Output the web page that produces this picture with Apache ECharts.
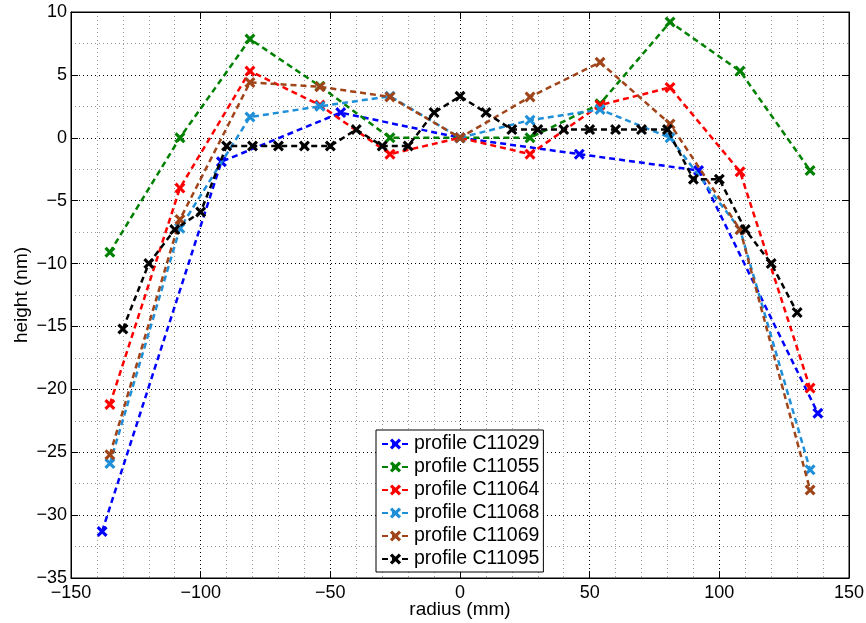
<!DOCTYPE html>
<html><head><meta charset="utf-8">
<script src="https://cdn.jsdelivr.net/npm/echarts@6/dist/echarts.min.js"></script>
<style>html,body{margin:0;padding:0;background:#fff}#c{width:866px;height:623px}</style>
</head><body><div id="c"></div>
<script>
const names = ['profile C11029','profile C11055','profile C11064','profile C11068','profile C11069','profile C11095'];
const colors = ['#0000ff','#008000','#ff0000','#1f8fd8','#a0451a','#000000'];
const x29 = [-138,-92,-46,0,46,92,138];
const y29 = [-31.3,-1.9,2.0,0,-1.3,-2.6,-21.9];
const xCommon = [-135,-108,-81,-54,-27,0,27,54,81,108,135];
const y55 = [-9.1,0,7.85,4.1,0,0,0,2.7,9.2,5.3,-2.6];
const y64 = [-21.2,-4.0,5.3,2.6,-1.3,0,-1.3,2.6,4.0,-2.7,-19.9];
const y68 = [-25.9,-7.2,1.65,2.5,3.3,0,1.4,2.25,0,-7.3,-26.4];
const y69 = [-25.2,-6.5,4.4,4.05,3.25,0,3.25,6.0,1.1,-7.3,-28.0];
const x95 = [-130,-120,-110,-100,-90,-80,-70,-60,-50,-40,-30,-20,-10,0,10,20,30,40,50,60,70,80,90,100,110,120,130];
const y95 = [-15.2,-10,-7.3,-5.9,-0.65,-0.65,-0.65,-0.65,-0.65,0.65,-0.65,-0.65,2.0,3.3,2.0,0.65,0.65,0.65,0.65,0.65,0.65,0.65,-3.3,-3.3,-7.3,-10,-13.9];
const xs = [x29,xCommon,xCommon,xCommon,xCommon,x95];
const ys = [y29,y55,y64,y68,y69,y95];

const X = 'path://M2,0L5,3L8,0L10,2L7,5L10,8L8,10L5,7L2,10L0,8L3,5L0,2Z';
const fmt = v => String(v).replace('-', '\u2212');
const font = '"Liberation Sans", Arial, sans-serif';

const series = names.map((n,i) => ({
  name: n, type: 'line',
  xAxisIndex: 0, yAxisIndex: 0,
  data: xs[i].map((x,k) => [x, ys[i][k]]),
  symbol: X, symbolSize: 11,
  itemStyle: {color: colors[i]},
  lineStyle: {color: colors[i], width: 2.5, type: [6,4]},
  animation: false, z: 3 + i
}));

const chart = echarts.init(document.getElementById('c'), null, {renderer: 'canvas'});
chart.setOption({
  animation: false,
  backgroundColor: '#fff',
  grid: {left: 71, top: 12, width: 778, height: 566, show: true, borderColor: '#000', borderWidth: 1,
         backgroundColor: 'transparent', containLabel: false, outerBoundsMode: 'none'},
  legend: {
    orient: 'vertical', left: 376, top: 430,
    backgroundColor: '#fff', borderColor: '#000', borderWidth: 1,
    padding: [4, 4, 3, 5],
    itemWidth: 27, itemHeight: 14, itemGap: 3,
    textStyle: {fontFamily: font, fontSize: 19.5, color: '#000'},
    data: names
  },
  xAxis: [{
    type: 'value', min: -150, max: 150, interval: 50,
    name: 'radius (mm)', nameLocation: 'middle', nameGap: 22, nameMoveOverlap: false,
    nameTextStyle: {fontFamily: font, fontSize: 19, color: '#000'},
    axisLine: {show: true, onZero: false, lineStyle: {color: '#000', width: 1}},
    axisTick: {show: true, inside: true, length: 7, lineStyle: {color: '#000'}},
    axisLabel: {fontFamily: font, fontSize: 18, color: '#000', margin: 6, formatter: fmt},
    splitLine: {show: true, lineStyle: {color: '#000', type: [1,3], width: 1}},
    minorSplitLine: {show: true, lineStyle: {color: '#9a9a9a', type: [1,3], width: 1}},
    minorTick: {show: false, splitNumber: 5}
  },{
    type: 'value', position: 'top', min: -150, max: 150, interval: 50,
    axisLine: {show: true, onZero: false, lineStyle: {color: '#000'}},
    axisTick: {show: true, inside: true, length: 7, lineStyle: {color: '#000'}},
    axisLabel: {show: false}, splitLine: {show: false}
  }],
  yAxis: [{
    type: 'value', min: -35, max: 10, interval: 5,
    name: 'height (nm)', nameLocation: 'middle', nameGap: 40, nameMoveOverlap: false,
    nameTextStyle: {fontFamily: font, fontSize: 19, color: '#000'},
    axisLine: {show: true, onZero: false, lineStyle: {color: '#000', width: 1}},
    axisTick: {show: true, inside: true, length: 7, lineStyle: {color: '#000'}},
    axisLabel: {fontFamily: font, fontSize: 18, color: '#000', margin: 4, formatter: fmt},
    splitLine: {show: true, lineStyle: {color: '#000', type: [1,3], width: 1}},
    minorSplitLine: {show: true, lineStyle: {color: '#9a9a9a', type: [1,3], width: 1}},
    minorTick: {show: false, splitNumber: 2}
  },{
    type: 'value', position: 'right', min: -35, max: 10, interval: 5,
    axisLine: {show: true, onZero: false, lineStyle: {color: '#000'}},
    axisTick: {show: true, inside: true, length: 7, lineStyle: {color: '#000'}},
    axisLabel: {show: false}, splitLine: {show: false}
  }],
  series: series
});
</script>
</body></html>
